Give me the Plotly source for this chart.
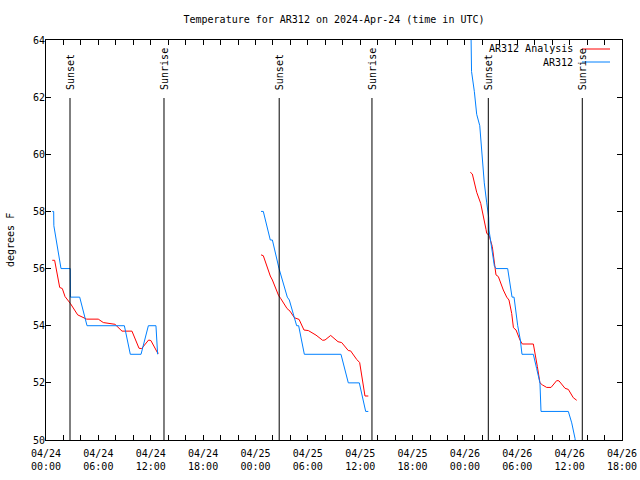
import pandas as pd
import plotly.graph_objects as go

START = pd.Timestamp("2024-04-24 00:00")
END = pd.Timestamp("2024-04-26 18:00")

# ---- data (hours after 2024-04-24 00:00 UTC, degrees F) ----
obs_day1_h = [0.72, 0.88, 0.90, 1.72, 2.78, 2.80, 3.86, 4.70, 8.98, 9.66, 10.89, 11.73, 12.60, 12.79]
obs_day1_t = [58.0, 58.0, 57.5, 56.0, 56.0, 55.0, 55.0, 54.0, 54.0, 53.0, 53.0, 54.0, 54.0, 53.0]
obs_day2_h = [24.64, 24.90, 25.70, 25.94, 26.70, 27.65, 27.88, 28.72, 28.95, 29.60, 33.80, 34.64, 35.90, 36.63, 36.93]
obs_day2_t = [58.0, 58.0, 57.0, 57.0, 56.0, 55.0, 54.9, 54.0, 54.0, 53.0, 53.0, 52.0, 52.0, 51.0, 51.0]
obs_day3_h = [48.62, 48.76, 49.08, 49.35, 49.70, 50.00, 50.22, 50.50, 50.72, 50.76, 50.95, 51.37, 51.56,
              52.90, 53.40, 53.63, 54.05, 54.35, 54.54, 55.84, 56.22, 56.60, 56.72, 59.85, 60.24, 60.62, 60.75]
obs_day3_t = [66.0, 62.9, 62.2, 61.4, 61.0, 59.9, 59.0, 58.3, 57.8, 57.35, 56.9, 56.1, 56.0,
              56.0, 55.0, 55.0, 54.0, 53.5, 53.0, 53.0, 52.5, 52.0, 51.0, 51.0, 50.6, 50.05, 49.6]

ana_day1_h = [0.72, 0.99, 1.57, 1.87, 2.18, 2.79, 3.63, 4.28, 4.66, 5.99, 6.57, 7.90, 8.71, 9.85,
              10.66, 10.96, 11.76, 12.02, 12.80, 12.90]
ana_day1_t = [56.29, 56.29, 55.34, 55.30, 55.02, 54.78, 54.38, 54.28, 54.23, 54.23, 54.11, 54.05, 53.81, 53.81,
              53.21, 53.20, 53.50, 53.48, 53.04, 53.04]
ana_day2_h = [24.64, 24.90, 25.70, 25.94, 26.66, 26.90, 27.62, 27.96, 28.46, 29.00, 29.56, 30.06, 30.94,
              31.70, 31.97, 32.62, 33.46, 33.88, 34.64, 34.90, 35.60, 35.94, 36.55, 36.93]
ana_day2_t = [56.48, 56.45, 55.74, 55.60, 55.05, 54.95, 54.60, 54.51, 54.28, 54.22, 53.85, 53.83, 53.67,
              53.49, 53.50, 53.66, 53.44, 53.41, 53.13, 53.12, 52.82, 52.71, 51.54, 51.54]
ana_day3_h = [48.62, 48.85, 49.35, 49.65, 49.81, 50.42, 50.50, 50.76, 51.14, 51.56, 51.83, 52.40, 52.79,
              53.05, 53.36, 53.56, 53.86, 54.31, 54.58, 55.84, 56.00, 56.30, 56.60, 56.87, 57.37, 57.87,
              58.52, 58.78, 59.47, 59.85, 60.42, 60.81]
ana_day3_t = [59.37, 59.31, 58.67, 58.36, 58.28, 57.37, 57.23, 57.17, 56.77, 55.78, 55.72, 55.25, 55.00,
              54.90, 54.43, 53.93, 53.85, 53.50, 53.36, 53.36, 53.03, 52.57, 52.00, 51.93, 51.84, 51.84,
              52.08, 52.07, 51.81, 51.77, 51.48, 51.39]

sunset_h = [2.75, 26.72, 50.68]
sunrise_h = [13.52, 37.35, 61.45]

y_min, y_max = 50, 64
title_text = "Temperature for AR312 on 2024-Apr-24 (time in UTC)"
FONT = "DejaVu Sans Mono"


def to_time(hours):
    return [START + pd.to_timedelta(h, unit="h") for h in hours]


def join(days):
    xs, ys = [], []
    for hs, ts in days:
        if xs:
            xs.append(None)
            ys.append(None)
        xs += to_time(hs)
        ys += ts
    return xs, ys


ana_x, ana_y = join([(ana_day1_h, ana_day1_t), (ana_day2_h, ana_day2_t), (ana_day3_h, ana_day3_t)])
obs_x, obs_y = join([(obs_day1_h, obs_day1_t), (obs_day2_h, obs_day2_t), (obs_day3_h, obs_day3_t)])

RED = "#ff0000"
BLUE = "#0080ff"

fig = go.Figure()
fig.add_trace(go.Scatter(x=ana_x, y=ana_y, mode="lines", name="AR312 Analysis",
                         line=dict(color=RED, width=1), connectgaps=False, showlegend=False))
fig.add_trace(go.Scatter(x=obs_x, y=obs_y, mode="lines", name="AR312",
                         line=dict(color=BLUE, width=1), connectgaps=False, showlegend=False))

shapes = []
annotations = []
for label, hours in (("Sunset", sunset_h), ("Sunrise", sunrise_h)):
    for t in to_time(hours):
        shapes.append(dict(type="line", xref="x", yref="y", x0=t, x1=t, y0=y_min, y1=61.97,
                           line=dict(color="black", width=1), layer="above"))
        annotations.append(dict(x=t, y=62.18, xref="x", yref="y", text=label, textangle=-90,
                                showarrow=False, xanchor="center", yanchor="bottom",
                                font=dict(family=FONT, size=10, color="black")))

# legend (gnuplot style: right-aligned text followed by line sample)
L, R, T, B = 46, 622, 40, 440
def px(x):
    return (x - L) / (R - L)
def py(y):
    return (B - y) / (B - T)

for i, (name, color) in enumerate((("AR312 Analysis", RED), ("AR312", BLUE))):
    ypix = 49 + 13 * i
    annotations.append(dict(x=px(575), y=py(ypix), xref="paper", yref="paper", text=name,
                            showarrow=False, xanchor="right", yanchor="middle",
                            font=dict(family=FONT, size=10, color="black")))
    shapes.append(dict(type="line", xref="paper", yref="paper", x0=px(582), x1=px(610),
                       y0=py(ypix), y1=py(ypix), line=dict(color=color, width=1)))

# y-axis title as rotated text left of the axis
annotations.append(dict(x=px(10), y=py(240), xref="paper", yref="paper", text="degrees F",
                        textangle=-90, showarrow=False, xanchor="center", yanchor="middle",
                        font=dict(family=FONT, size=10, color="black")))

tickvals = pd.date_range(START, END, freq="6h")
ticktext = [t.strftime("%m/%d<br>%H:%M") for t in tickvals]

fig.update_layout(
    width=640, height=480,
    margin=dict(l=L, r=640 - R, t=T, b=480 - B, autoexpand=False),
    paper_bgcolor="white", plot_bgcolor="white",
    font=dict(family=FONT, size=10, color="black"),
    title=dict(text=title_text, x=(L + R) / 2 / 640, xanchor="center", y=1 - 19 / 480, yanchor="middle",
               font=dict(family=FONT, size=10, color="black")),
    shapes=shapes, annotations=annotations,
    xaxis=dict(type="date", range=[START, END], tickvals=tickvals, ticktext=ticktext, automargin=False,
               showgrid=False, zeroline=False, showline=True, linecolor="black", linewidth=1,
               mirror="ticks", ticks="inside", ticklen=5, tickcolor="black", tickwidth=1,
               ticklabelstandoff=4,
               minor=dict(dtick=2 * 3600 * 1000, ticks="inside", ticklen=5, tickcolor="black", showgrid=False),
               tickfont=dict(family=FONT, size=10)),
    yaxis=dict(range=[y_min, y_max], dtick=2, showgrid=False, zeroline=False, showline=True, automargin=False,
               linecolor="black", linewidth=1, mirror="ticks", ticks="inside", ticklen=5,
               tickcolor="black", tickwidth=1, ticklabelstandoff=-2, tickfont=dict(family=FONT, size=10)),
)

fig.write_html("out.html", config={"displayModeBar": False},
               post_script="document.body.style.margin='0';")
